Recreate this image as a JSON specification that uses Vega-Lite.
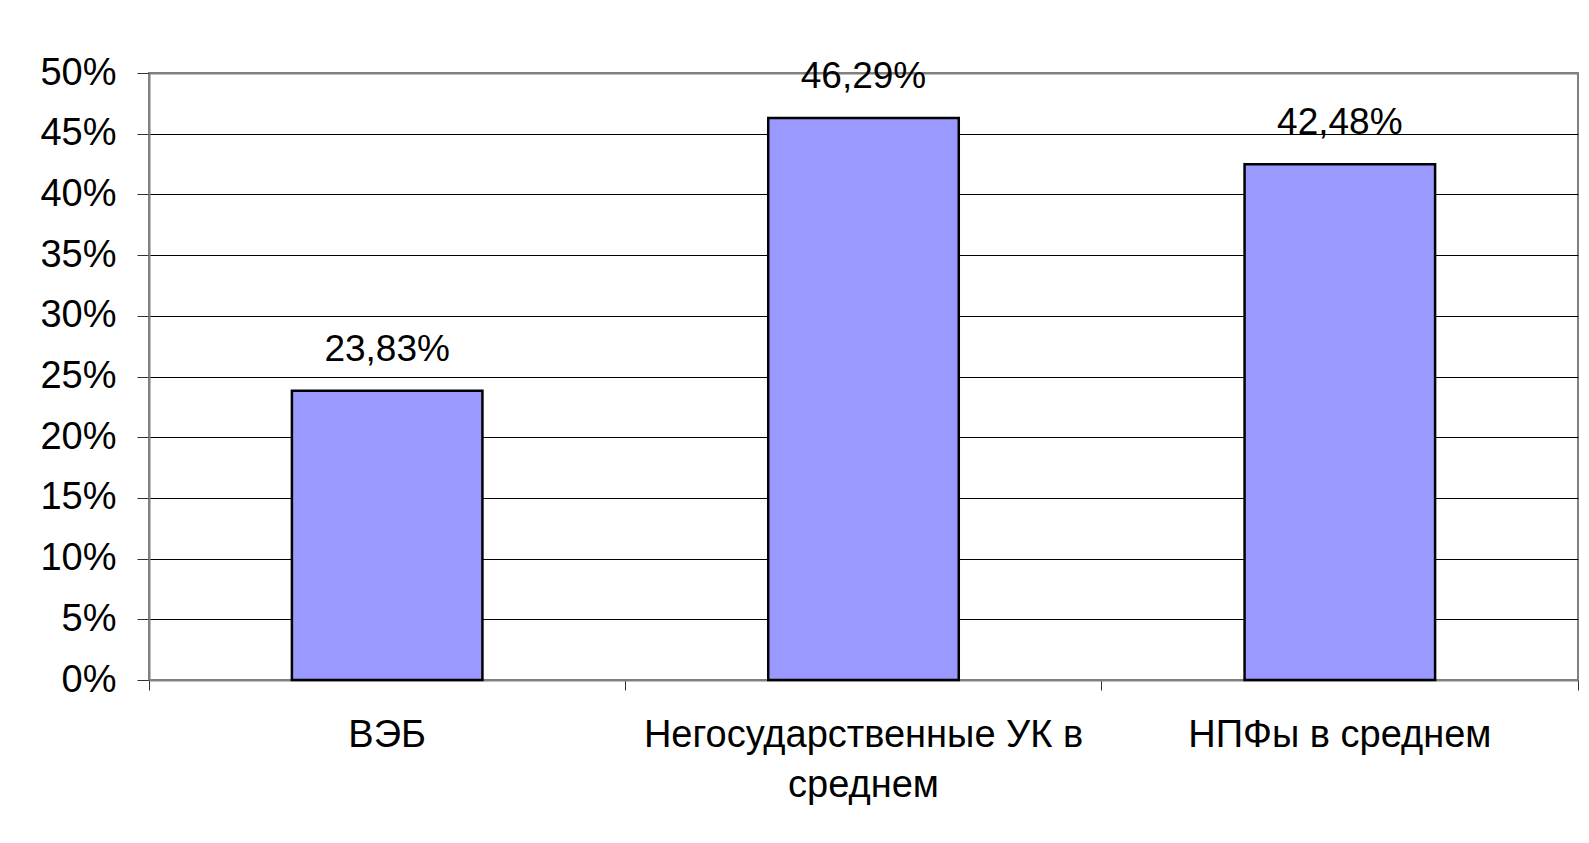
{
  "$schema": "https://vega.github.io/schema/vega-lite/v6.json",
  "width": 1429,
  "height": 607,
  "autosize": {"type": "none"},
  "padding": {"left": 149, "top": 73, "right": 11, "bottom": 163},
  "background": "white",
  "config": {
    "locale": {"number": {"decimal": ",", "thousands": " ", "grouping": [3], "currency": ["", " ₽"]}},
    "font": "Liberation Sans",
    "view": {"stroke": "#808080", "strokeWidth": 2}
  },
  "data": {
    "values": [
      {"category": "ВЭБ", "value": 0.2383},
      {"category": "Негосударственные УК в среднем", "value": 0.4629},
      {"category": "НПФы в среднем", "value": 0.4248}
    ]
  },
  "encoding": {
    "x": {
      "field": "category",
      "type": "nominal",
      "sort": null,
      "scale": {"paddingInner": 0, "paddingOuter": 0},
      "axis": {
        "title": null,
        "labelAngle": 0,
        "labelFontSize": 38,
        "labelColor": "black",
        "labelPadding": 26,
        "labelBaseline": "top",
        "labelLineHeight": 50,
        "labelLimit": 0,
        "bandPosition": 1,
        "tickExtra": true,
        "tickSize": 10,
        "tickColor": "#333333",
        "domainColor": "#808080",
        "domainWidth": 2,
        "labelExpr": "datum.value === 'Негосударственные УК в среднем' ? ['Негосударственные УК в', 'среднем'] : datum.value"
      }
    },
    "y": {
      "field": "value",
      "type": "quantitative",
      "scale": {"domain": [0, 0.5], "nice": false},
      "axis": {
        "title": null,
        "values": [0, 0.05, 0.1, 0.15, 0.2, 0.25, 0.3, 0.35, 0.4, 0.45, 0.5],
        "format": ".0%",
        "labelFontSize": 38,
        "labelColor": "black",
        "labelPadding": 21,
        "tickSize": 12,
        "tickColor": "#333333",
        "domainColor": "#808080",
        "domainWidth": 2,
        "gridColor": {"condition": {"test": "datum.value >= 0.5", "value": "#808080"}, "value": "black"},
        "gridWidth": {"condition": {"test": "datum.value >= 0.5", "value": 2}, "value": 1},
        "gridOpacity": 1
      }
    }
  },
  "layer": [
    {"mark": {"type": "bar", "fill": "#9999FF", "stroke": "black", "strokeWidth": 2.5, "width": {"band": 0.4}}},
    {
      "mark": {"type": "text", "baseline": "alphabetic", "dy": -30, "fontSize": 37, "color": "black"},
      "encoding": {"text": {"field": "value", "type": "quantitative", "format": ".2%"}}
    }
  ]
}
